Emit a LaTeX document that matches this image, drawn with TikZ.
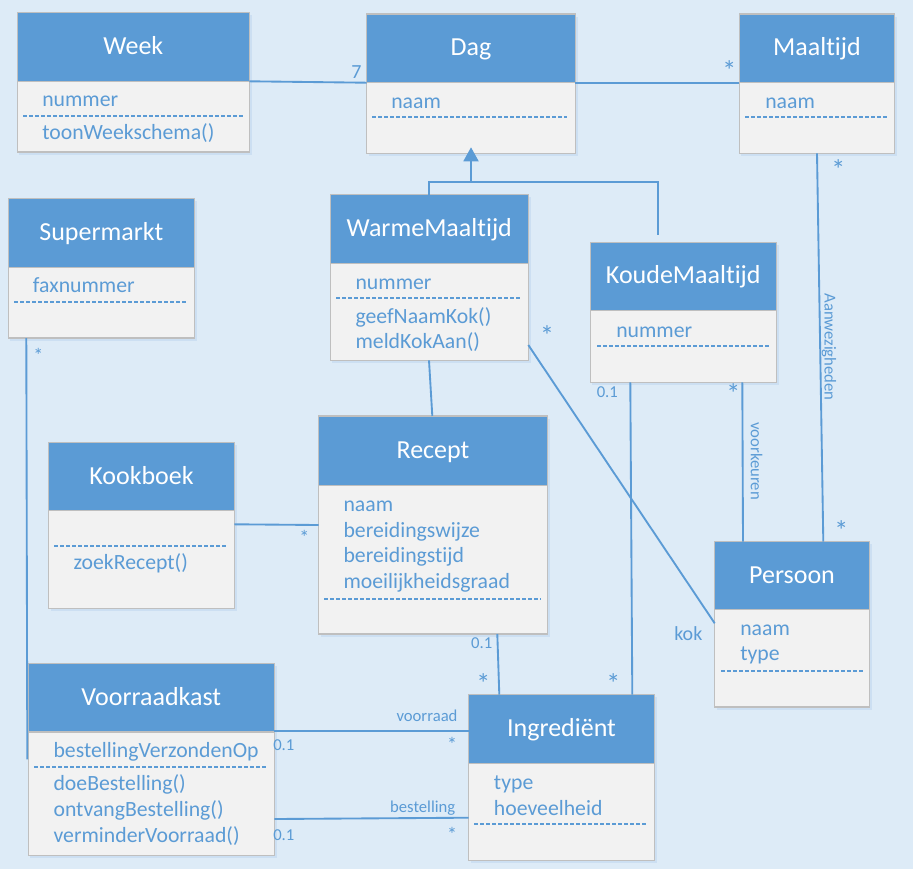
\documentclass[tikz,border=0pt]{standalone}
\usepackage{fontspec}
\setmainfont{Carlito}[Ligatures=NoCommon]
\usetikzlibrary{arrows.meta}
\definecolor{bg}{HTML}{DDEBF7}
\definecolor{hdr}{HTML}{5B9BD5}
\definecolor{bodyc}{HTML}{F2F2F2}
\definecolor{brd}{HTML}{BFBFBF}
\definecolor{tx}{HTML}{5B9BD5}
\definecolor{shadowc}{HTML}{CCDFF2}
\newcommand\UMLbox[7]{%
  \fill[shadowc] ({#2+2},{#3+2.5}) rectangle ({#4+2.5},{#5+2.5});
  \node[boxbody, minimum width={(#4-(#2))*0.75pt}, minimum height={(#5-(#3))*0.75pt}] (#1) at ({(#2+#4)/2},{(#3+#5)/2}) {};
  \fill[headfill] (#1.north west) rectangle (#4,#6);
  \draw[boxborder] (#1.north west) rectangle (#1.south east);
  \draw[boxborder] (#2,#6) -- (#4,#6);
  \node[headtext, anchor=base] (#1-title) at ({(#2+#4)/2},{(#3+#6)/2+7.5}) {#7};
}
\begin{document}
\begin{tikzpicture}[x=0.75pt,y=-0.75pt,
  boxbody/.style={fill=bodyc, draw=none, inner sep=0, outer sep=0},
  headfill/.style={fill=hdr},
  boxborder/.style={draw=brd, line width=1pt},
  headtext/.style={text=white, font=\fontsize{19.5}{22}\selectfont, inner sep=0},
  attr/.style={anchor=base west, text=tx, font=\fontsize{16.3}{19}\selectfont, inner sep=0},
  sep/.style={draw=tx, line width=1.1pt, dash pattern=on 3pt off 1.5pt},
  conn/.style={draw=hdr, line width=1.4pt},
  lbl/.style={text=tx, font=\fontsize{12.5}{14}\selectfont, inner sep=0},
  biglbl/.style={text=tx, font=\fontsize{15}{17}\selectfont, inner sep=0},
  bigstar/.style={text=tx, font=\fontsize{21}{22}\selectfont, inner sep=0, yshift=-3.5pt},
  smallstar/.style={text=tx, font=\fontsize{15}{16}\selectfont, inner sep=0, yshift=-2.5pt},
]
\useasboundingbox (0,0) rectangle (913,868);
\fill[bg] (-2,-2) rectangle (915,870);

% classes
\UMLbox{week}{17.3}{12.7}{249.3}{152}{81.3}{Week}
\UMLbox{dag}{366.7}{14}{575.3}{153.3}{82.3}{Dag}
\UMLbox{maaltijd}{739.3}{14}{894.7}{153.3}{82.3}{Maaltijd}
\UMLbox{supermarkt}{8.3}{198.3}{194.3}{338}{267.3}{Supermarkt}
\UMLbox{warme}{330.3}{194.7}{528.3}{360.3}{263.3}{WarmeMaaltijd}
\UMLbox{koude}{590.3}{242.3}{776.3}{382.3}{310.3}{KoudeMaaltijd}
\UMLbox{kookboek}{48.7}{442.7}{234.3}{608.3}{510.3}{Kookboek}
\UMLbox{recept}{318.7}{416}{547.3}{634}{485.3}{Recept}
\UMLbox{voorraadkast}{28.3}{663.3}{274.3}{855.3}{732}{Voorraadkast}
\UMLbox{ingredient}{468.7}{694.7}{654.3}{860.3}{763.3}{Ingrediënt}
\UMLbox{persoon}{714.7}{541.7}{869.3}{707}{609.3}{Persoon}

% attributes / operations
\node[attr] (week-a1) at (42,106) {nummer};
\draw[sep] (23,116) -- (243,116);
\node[attr] (week-o1) at (42,139) {toonWeekschema()};

\node[attr] (dag-a1) at (391,108) {naam};
\draw[sep] (372,117) -- (567,117);

\node[attr] (maaltijd-a1) at (765,108) {naam};
\draw[sep] (745,117) -- (888,117);

\node[attr] (supermarkt-a1) at (32.7,292) {faxnummer};
\draw[sep] (14,302) -- (188,302);

\node[attr] (warme-a1) at (355.3,289) {nummer};
\draw[sep] (336,298) -- (522,298);
\node[attr] (warme-o1) at (355.3,323) {geefNaamKok()};
\node[attr] (warme-o2) at (355.3,348) {meldKokAan()};

\node[attr] (koude-a1) at (616,337) {nummer};
\draw[sep] (597,346) -- (770,346);

\draw[sep] (54,546) -- (228,546);
\node[attr] (kookboek-o1) at (73.3,569) {zoekRecept()};

\node[attr] (recept-a1) at (343.3,511.5) {naam};
\node[attr] (recept-a2) at (343.3,537) {bereidingswijze};
\node[attr] (recept-a3) at (343.3,562.5) {bereidingstijd};
\node[attr] (recept-a4) at (343.3,588.5) {moeilijkheidsgraad};
\draw[sep] (324,599) -- (541,599);

\node[attr] (voorraadkast-a1) at (53.3,757.5) {bestellingVerzondenOp};
\draw[sep] (34,767) -- (268,767);
\node[attr] (voorraadkast-o1) at (53.3,790) {doeBestelling()};
\node[attr] (voorraadkast-o2) at (53.3,816) {ontvangBestelling()};
\node[attr] (voorraadkast-o3) at (53.3,842) {verminderVoorraad()};

\node[attr] (ingredient-a1) at (493.7,789) {type};
\node[attr] (ingredient-a2) at (493.7,815) {hoeveelheid};
\draw[sep] (474,824) -- (648,824);

\node[attr] (persoon-a1) at (740,635) {naam};
\node[attr] (persoon-a2) at (740,660) {type};
\draw[sep] (721,671) -- (863,671);

% connectors
\draw[conn] (week.east |- 0,81.3) -- (dag.west |- 0,82.7);
\draw[conn] (dag.east |- 0,82.7) -- (maaltijd.west |- 0,82.7);

\coordinate (genL) at (429,181.7);
\coordinate (genM) at (471,181.7);
\coordinate (genR) at (657.7,181.7);
\coordinate (genRend) at (657.7,235);
\draw[conn] (warme.north -| genL) -- (genL) -- (genR) -- (genRend);
\draw[conn, -{Triangle[width=11.25pt,length=10.5pt]}] (genM) -- ([yshift=4.5pt]dag.south);

\draw[conn] (maaltijd.south) -- (persoon.north -| 823.3,0);
\draw[conn] (koude.south -| 742.3,0) -- (persoon.north -| 743,0);
\draw[conn] (koude.south -| 630.3,0) -- (ingredient.north -| 632.3,0);
\draw[conn] (warme.east |- 0,345) -- (persoon.west |- 0,623.3);
\draw[conn] (warme.south -| 429,0) -- (recept.north -| 432.3,0);
\coordinate (superEnd) at (27.3,759.3);
\draw[conn] (supermarkt.south -| 26.3,0) -- (superEnd);
\draw[conn] (kookboek.east |- 0,524.3) -- (recept.west |- 0,525);
\draw[conn] (recept.south -| 497.3,0) -- (ingredient.north -| 499.3,0);
\draw[conn] (voorraadkast.east |- 0,731) -- (ingredient.west |- 0,731);
\draw[conn] (voorraadkast.east |- 0,819) -- (ingredient.west |- 0,817.7);

% labels
\node[biglbl, anchor=base] (l7) at (356.5,78) {7};
\node[bigstar] (s1) at (729.3,66) {*};
\node[bigstar] (s2) at (838.3,165.3) {*};
\node[bigstar] (s3) at (841.3,526.3) {*};
\node[bigstar] (s4) at (547,331.3) {*};
\node[bigstar] (s5) at (733.3,388.7) {*};
\node[bigstar] (s6) at (613.3,678.5) {*};
\node[bigstar] (s7) at (483.3,678.5) {*};
\node[smallstar] (s8) at (38.3,351.7) {*};
\node[smallstar] (s9) at (304.3,534.3) {*};
\node[smallstar] (s10) at (452,741.3) {*};
\node[smallstar] (s11) at (452,831) {*};

\node[lbl] (m1) at (607.3,392) {0.1};
\node[lbl] (m2) at (481.7,643) {0.1};
\node[lbl] (m3) at (283.8,744.7) {0.1};
\node[lbl] (m4) at (283.8,835) {0.1};

\node[lbl] (lvoorraad) at (427,715.7) {voorraad};
\node[lbl, anchor=base] (lbestelling) at (422.7,812) {bestelling};
\node[biglbl, anchor=base] (lkok) at (688.3,640) {kok};
\node[lbl, rotate=-90] (lAanw) at (829,347) {Aanwezigheden};
\node[lbl, rotate=-90] (lvoork) at (756.7,461) {voorkeuren};
\end{tikzpicture}
\end{document}
